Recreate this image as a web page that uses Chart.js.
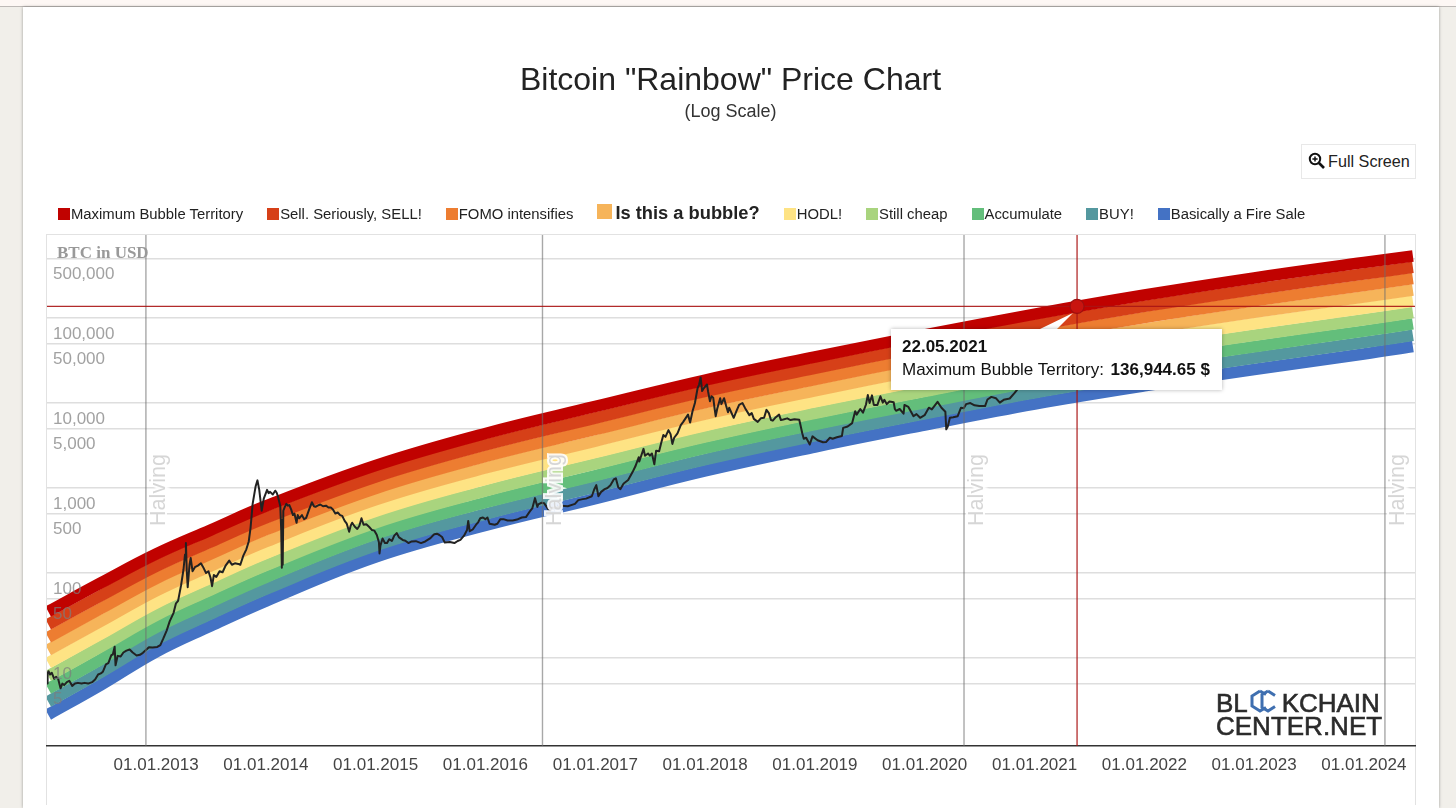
<!DOCTYPE html>
<html>
<head>
<meta charset="utf-8">
<title>Bitcoin "Rainbow" Price Chart</title>
<script src="https://cdn.jsdelivr.net/npm/chart.js@4/dist/chart.umd.min.js"></script>
<style>
  html, body { margin: 0; padding: 0; background: #f1efea; overflow: hidden; }
  body { width: 1456px; height: 808px; position: relative; font-family: 'Liberation Sans', Arial, sans-serif; color: #222; }
  #topStrip { position: absolute; left: 0; top: 0; width: 1456px; height: 6px; background: #fdf7f4; border-bottom: 1px solid #bdb9b6; }
  #card { position: absolute; left: 23px; top: 7px; width: 1416px; height: 801px; background: #fff; box-shadow: 0 0 3px rgba(0,0,0,.35); }
  #frame { position: absolute; left: 46px; top: 234px; width: 1368px; height: 570px; border: 1px solid #e2e2e2; border-bottom: 0; }
  #rainbow { position: absolute; left: 0; top: 0; }
  #title { position: absolute; left: 0; width: 1461px; top: 60px; text-align: center; font-size: 32px; line-height: 38px; color: #222; }
  #subtitle { position: absolute; left: 0; width: 1461px; top: 100px; text-align: center; font-size: 18px; line-height: 22px; color: #333; }
  #fsBtn { position: absolute; left: 1301px; top: 144px; width: 113px; height: 33px; border: 1px solid #e8e8e8; font-size: 16.2px; line-height: 33px; color: #222; background: #fff; }
  #fsBtn svg { position: absolute; left: 6px; top: 7px; }
  #fsBtn span { position: absolute; left: 26px; white-space: nowrap; }
  #legend { position: absolute; left: 58px; top: 201px; height: 26px; display: flex; gap: 24px; align-items: center; font-size: 14.85px; color: #222; white-space: nowrap; }
  #legend i { display: inline-block; width: 12px; height: 12px; margin-right: 1px; vertical-align: -1px; }
  #legend .big { font-size: 18.3px; font-weight: bold; margin-top: -2px; }
  #legend .big i { width: 15px; height: 15px; margin-right: 3px; vertical-align: 0; }
  #wedge { position: absolute; left: 1040px; top: 312px; width: 36px; height: 18px; background: #fff; clip-path: polygon(33px 1px, 0 17px, 17px 17px); }
  #tip { position: absolute; left: 891px; top: 329px; width: 331px; height: 61px; background: #fff; box-shadow: 0 0 4px rgba(0,0,0,.3); font-size: 17px; color: #111; }
  #tip div { position: absolute; left: 11px; white-space: nowrap; line-height: 20px; }
  #logo { position: absolute; left: 1216px; top: 692px; font-size: 26px; line-height: 23px; color: #2b2b2b; white-space: nowrap; -webkit-text-stroke: .6px #2b2b2b; }
  #logo .oc { position: relative; color: transparent; -webkit-text-stroke: 0; letter-spacing: -2.6px; }
  #logo svg { position: absolute; left: 0; top: 1px; }
</style>
</head>
<body>
<div id="topStrip"></div>
<div id="card"></div>
<div id="frame"></div>
<canvas id="rainbow" width="1456" height="808"></canvas>
<div id="title">Bitcoin "Rainbow" Price Chart</div>
<div id="subtitle">(Log Scale)</div>
<div id="fsBtn">
  <svg width="18" height="18" viewBox="0 0 18 18"><circle cx="7" cy="7" r="5.2" fill="none" stroke="#111" stroke-width="2"/><path d="M11 11l5 5" stroke="#111" stroke-width="2.6"/><path d="M4.4 7h5.2M7 4.4v5.2" stroke="#111" stroke-width="1.5"/></svg>
  <span>Full Screen</span>
</div>
<div id="legend"></div>
<div id="logo">BL<span class="oc">OC<svg width="36" height="24" viewBox="0 0 36 24" fill="none" stroke="#3f6fb0" stroke-width="3"><path d="M12 2l-8 5v10l8 5 6-3.5M12 2l6 3.5"/><path d="M20 2l-6 3.5v13l6 3.5 7-4.5M20 2l7 4.5"/></svg></span>KCHAIN<br>CENTER.NET</div>
<div id="wedge"></div>
<div id="tip"><div id="tipDate" style="top:8px;font-weight:bold"></div><div id="tipLine" style="top:31px"></div></div>

<script>
// knots of the nine bands
const bandDates = ['2012-01-08','2012-07-01','2013-01-01','2013-07-01','2014-01-01','2015-01-01','2016-01-01','2017-01-01','2018-01-01','2019-01-01','2020-01-01','2021-01-01','2022-01-01','2023-01-01','2024-01-01','2024-06-12'];
const maxBubble = [35.2,76.3,167,320,614,1840,4380,9100,18600,34800,63100,111000,186000,296000,449000,536000];
const sellSeriously = [24.9,54.0,120,232,445,1350,3210,6660,13700,25600,46500,82100,137000,217000,329000,395000];
const fomo = [17.5,38.2,86.2,167,323,990,2350,4880,10100,18900,34300,60600,101000,159000,242000,291000];
const isBubble = [12.4,27.1,61.8,121,234,726,1720,3570,7400,13900,25300,44700,74000,117000,177000,214000];
const hodl = [8.73,19.2,44.4,87.3,170,533,1260,2620,5440,10300,18600,32900,54400,85600,130000,157000];
const stillCheap = [6.16,13.6,31.8,63.1,123,391,922,1920,3990,7570,13700,24300,39900,62800,95400,116000];
const accumulate = [4.35,9.6,22.9,45.6,89.1,287,675,1400,2940,5590,10100,17900,29400,46000,70100,85300];
const buy = [3.07,6.80,16.4,32.9,64.6,210,494,1030,2160,4120,7470,13200,21600,33800,51400,62800];
const fireSale = [2.16,4.81,11.8,23.8,46.8,154,362,752,1590,3040,5510,9730,15900,24800,37700,46200];

const bandNames = ['Maximum Bubble Territory','Sell. Seriously, SELL!','FOMO intensifies','Is this a bubble?','HODL!','Still cheap','Accumulate','BUY!','Basically a Fire Sale'];
const bandColors = ['#c00200','#d64018','#ed7d31','#f6b45a','#fee384','#a9d47e','#63be7b','#54989f','#4472c4'];
const bandValues = [maxBubble, sellSeriously, fomo, isBubble, hodl, stillCheap, accumulate, buy, fireSale];

const btcDates = [
  '2012-01-04','2012-01-06','2012-01-09','2012-01-14','2012-01-20','2012-01-28','2012-02-03','2012-02-10','2012-02-18','2012-02-24','2012-03-01','2012-03-10','2012-03-18','2012-03-28','2012-04-06','2012-04-16','2012-04-28','2012-05-08','2012-05-20','2012-06-02','2012-06-12','2012-06-22','2012-07-01','2012-07-08','2012-07-18','2012-07-26','2012-08-05','2012-08-10','2012-08-16','2012-08-19','2012-08-26','2012-09-05','2012-09-14','2012-09-24','2012-10-05','2012-10-15','2012-10-28','2012-11-08','2012-11-18','2012-11-28','2012-12-08','2012-12-20',
  '2013-01-05','2013-01-15','2013-01-25','2013-02-05','2013-02-15','2013-02-28','2013-03-08','2013-03-15','2013-03-25','2013-04-02','2013-04-07','2013-04-10','2013-04-13','2013-04-16','2013-04-22','2013-04-26','2013-05-02','2013-05-10','2013-05-20','2013-05-30','2013-06-06','2013-06-16','2013-06-24','2013-07-01','2013-07-06','2013-07-12','2013-07-20','2013-07-31','2013-08-10','2013-08-20','2013-09-01','2013-09-10','2013-09-20','2013-10-01','2013-10-08','2013-10-18','2013-10-28','2013-11-05','2013-11-11','2013-11-18','2013-11-28','2013-12-04','2013-12-10','2013-12-18','2013-12-25',
  '2014-01-05','2014-01-10','2014-01-15','2014-01-24','2014-02-01','2014-02-06','2014-02-10','2014-02-18','2014-02-21','2014-02-23','2014-02-24','2014-02-26','2014-02-28','2014-03-05','2014-03-10','2014-03-15','2014-03-20','2014-03-26','2014-04-01','2014-04-06','2014-04-13','2014-04-17','2014-04-22','2014-05-01','2014-05-08','2014-05-15','2014-05-20','2014-05-25','2014-06-03','2014-06-10','2014-06-15','2014-06-22','2014-07-01','2014-07-10','2014-07-20','2014-07-28','2014-08-05','2014-08-12','2014-08-20','2014-08-28','2014-09-05','2014-09-12','2014-09-20','2014-09-27','2014-10-05','2014-10-10','2014-10-15','2014-10-24','2014-11-01','2014-11-08','2014-11-15','2014-11-22','2014-12-01','2014-12-10','2014-12-20','2014-12-28',
  '2015-01-05','2015-01-12','2015-01-14','2015-01-17','2015-01-24','2015-02-01','2015-02-08','2015-02-15','2015-02-24','2015-03-04','2015-03-12','2015-03-20','2015-04-01','2015-04-10','2015-04-20','2015-05-01','2015-05-15','2015-06-01','2015-06-15','2015-07-01','2015-07-08','2015-07-15','2015-07-24','2015-08-01','2015-08-10','2015-08-19','2015-09-05','2015-09-20','2015-10-01','2015-10-10','2015-10-22','2015-11-01','2015-11-05','2015-11-10','2015-11-20','2015-12-01','2015-12-08','2015-12-15','2015-12-24',
  '2016-01-01','2016-01-08','2016-01-15','2016-02-01','2016-02-10','2016-02-20','2016-03-01','2016-03-15','2016-04-01','2016-04-15','2016-05-01','2016-05-15','2016-05-28','2016-06-05','2016-06-14','2016-06-22','2016-06-25','2016-07-05','2016-07-15','2016-08-02','2016-08-10','2016-08-20','2016-09-10','2016-10-01','2016-10-25','2016-11-05','2016-11-20','2016-12-01','2016-12-20','2016-12-28',
  '2017-01-04','2017-01-11','2017-01-20','2017-02-01','2017-02-10','2017-02-20','2017-03-03','2017-03-10','2017-03-18','2017-03-25','2017-04-05','2017-04-20','2017-05-05','2017-05-14','2017-05-25','2017-05-27','2017-06-10','2017-06-15','2017-06-25','2017-07-01','2017-07-08','2017-07-16','2017-07-22','2017-08-01','2017-08-08','2017-08-15','2017-08-22','2017-09-01','2017-09-08','2017-09-14','2017-09-20','2017-10-01','2017-10-12','2017-10-20','2017-11-05','2017-11-12','2017-11-20','2017-11-28','2017-12-07','2017-12-12','2017-12-17','2017-12-22','2017-12-28',
  '2018-01-07','2018-01-11','2018-01-17','2018-01-22','2018-01-28','2018-02-01','2018-02-05','2018-02-10','2018-02-20','2018-02-24','2018-03-05','2018-03-12','2018-03-18','2018-03-22','2018-04-06','2018-04-15','2018-04-24','2018-05-05','2018-05-14','2018-05-28','2018-06-05','2018-06-12','2018-06-25','2018-07-05','2018-07-16','2018-07-24','2018-08-01','2018-08-08','2018-08-14','2018-08-22','2018-09-04','2018-09-10','2018-09-18','2018-10-01','2018-10-12','2018-10-25','2018-11-10','2018-11-14','2018-11-20','2018-11-25','2018-12-03','2018-12-15','2018-12-24',
  '2019-01-10','2019-01-28','2019-02-07','2019-02-20','2019-03-01','2019-03-15','2019-04-01','2019-04-05','2019-04-20','2019-05-05','2019-05-15','2019-05-20','2019-06-01','2019-06-10','2019-06-20','2019-06-26','2019-07-02','2019-07-10','2019-07-16','2019-07-28','2019-08-07','2019-08-15','2019-08-20','2019-08-28','2019-09-06','2019-09-20','2019-09-24','2019-09-28','2019-10-10','2019-10-23','2019-10-26','2019-11-08','2019-11-25','2019-12-05','2019-12-17',
  '2020-01-01','2020-01-15','2020-01-25','2020-02-13','2020-02-26','2020-03-10','2020-03-13','2020-03-18','2020-03-25','2020-04-05','2020-04-20','2020-05-01','2020-05-10','2020-05-18','2020-06-01','2020-06-15','2020-07-01','2020-07-20','2020-07-28','2020-08-10','2020-08-25','2020-09-07','2020-09-20','2020-10-10','2020-10-25','2020-11-10','2020-12-17',
  '2021-01-08','2021-02-20','2021-03-13','2021-04-14','2021-05-19'
];
const btcPrices = [
  5.0,6.6,7.0,6.4,6.7,5.7,6.0,5.7,4.4,5.0,4.8,5.2,5.4,4.7,5.0,5.1,5.0,5.1,5.0,5.2,5.6,6.4,6.6,6.9,8.4,8.7,10.8,11,13.6,8.2,10.6,10.4,11.6,12.2,12.6,11.6,10.7,10.9,11.5,12.4,13.4,13.3,
  13.5,14.2,17,21,27,34,44,47,72,110,165,225,105,68,125,150,105,117,122,130,118,100,105,88,70,95,90,105,102,122,140,125,130,128,125,160,190,235,340,650,1050,1230,950,540,750,
  950,870,900,840,930,880,800,610,320,115,420,125,540,600,650,620,630,560,480,500,390,480,440,480,430,445,500,560,680,610,600,620,640,610,620,590,590,560,500,515,480,470,410,380,305,360,390,350,330,360,440,370,375,350,320,315,
  280,230,170,210,255,225,225,250,238,275,295,262,245,240,225,235,237,225,235,255,270,285,290,280,265,228,232,225,238,245,275,320,410,310,325,370,395,440,450,
  430,450,380,370,380,430,430,415,415,425,450,455,530,575,760,600,640,670,660,530,590,580,620,610,650,720,740,750,800,960,
  1080,800,900,970,1000,1080,1260,1300,1020,970,1130,1240,1550,1800,2300,2050,2890,2400,2550,2400,2550,1900,2750,2700,3400,4200,4000,4800,4300,3300,3900,4400,5500,6000,7300,5900,8000,10000,15000,16500,20000,13800,15000,
  16500,13500,10500,12000,11500,8800,7000,8500,11400,9700,11400,9200,7800,8800,6700,8000,9500,10000,8700,7200,7600,6500,6000,6600,6700,8300,7600,6300,6200,6700,7300,6300,6400,6600,6300,6450,6350,5500,4400,3800,3900,3250,4050,
  3650,3450,3470,3900,3800,3950,4100,5100,5300,5800,8000,7300,8500,7700,9600,12400,10000,12300,9500,9500,12000,10100,10900,9700,10400,10200,8500,8100,8500,7500,9500,9000,7000,7400,6700,
  7200,8800,8400,10300,8800,7900,4900,5300,6700,6800,7000,8800,8700,9700,10000,9400,9200,9200,11000,11800,11400,10100,10900,11300,13000,15300,23000,
  40000,56000,60000,63000,38000
];

const halvingDates = ['2012-11-28','2016-07-09','2020-05-11','2024-03-11'];
const xTickDates = ['2013-01-01','2014-01-01','2015-01-01','2016-01-01','2017-01-01','2018-01-01','2019-01-01','2020-01-01','2021-01-01','2022-01-01','2023-01-01','2024-01-01'];
const yTickValues = [500000,100000,50000,10000,5000,1000,500,100,50,10,5];
const cursorDate = '2021-05-22';
const cursorValue = 136944.65;
const xMinDate = '2012-01-04', xMaxDate = '2024-06-19';
const yMin = 0.922, yMax = 947400;

const day = (s) => Date.parse(s + 'T00:00:00Z');
const fmtDate = (ms) => {
  const d = new Date(ms);
  const p = (n) => String(n).padStart(2, '0');
  return p(d.getUTCDate()) + '.' + p(d.getUTCMonth() + 1) + '.' + d.getUTCFullYear();
};

// legend, tooltip text
document.getElementById('legend').innerHTML = bandNames.map((n, i) =>
  `<span class="${i === 3 ? 'big' : ''}"><i style="background:${bandColors[i]}"></i>${n}</span>`).join('');
document.getElementById('tipDate').textContent = fmtDate(day(cursorDate));
document.getElementById('tipLine').innerHTML = bandNames[0] + ': <b style="margin-left:2px">' +
  cursorValue.toLocaleString('en-US', { minimumFractionDigits: 2, maximumFractionDigits: 2 }) + ' $</b>';

const vline = (date, color, width, order) => ({
  data: [{ x: day(date), y: yMin }, { x: day(date), y: yMax }],
  borderColor: color, borderWidth: width, pointRadius: 0, order,
});

const datasets = [
  // marker on the top band
  { data: [{ x: day(cursorDate), y: cursorValue }], pointRadius: 7, pointBackgroundColor: '#c8140f', pointBorderColor: '#9c1010', pointBorderWidth: 1.2, showLine: false, order: 0 },
  vline(cursorDate, 'rgba(170,20,20,.9)', 1.3, 1),
  { data: [{ x: day(xMinDate), y: cursorValue }, { x: day(xMaxDate), y: cursorValue }], borderColor: 'rgba(170,20,20,.9)', borderWidth: 1.3, pointRadius: 0, order: 1 },
  ...halvingDates.map((d) => vline(d, 'rgba(110,110,110,.6)', 1.4, 2)),
  { data: btcDates.map((d, i) => ({ x: day(d), y: btcPrices[i] })), borderColor: '#222', borderWidth: 2, pointRadius: 0, borderJoinStyle: 'round', order: 3 },
  ...bandValues.map((vals, i) => ({
    data: bandDates.map((d, k) => ({ x: day(d), y: vals[k] })),
    borderColor: bandColors[i], borderWidth: 11.6, pointRadius: 0, borderCapStyle: 'butt',
    tension: 0.4, clip: 0, order: 4 + i,
  })),
];

// rotated Halving captions and the axis caption
const captions = {
  id: 'captions',
  afterDatasetsDraw(chart) {
    const { ctx, chartArea, scales } = chart;
    ctx.save();
    halvingDates.forEach((d) => {
      ctx.save();
      ctx.translate(scales.x.getPixelForValue(day(d)) + 13, 490);
      ctx.rotate(-Math.PI / 2);
      ctx.font = '21.6px "Liberation Sans"';
      ctx.textAlign = 'center';
      ctx.textBaseline = 'middle';
      ctx.lineWidth = 4;
      ctx.strokeStyle = 'rgba(255,255,255,.9)';
      ctx.strokeText('Halving', 0, 0);
      ctx.fillStyle = '#d6d6d6';
      ctx.fillText('Halving', 0, 0);
      ctx.restore();
    });
    ctx.font = 'bold 17px "Liberation Serif"';
    ctx.fillStyle = '#999';
    ctx.textBaseline = 'middle';
    ctx.fillText('BTC in USD', chartArea.left + 10, chartArea.top + 19);
    ctx.restore();
  },
};

new Chart(document.getElementById('rainbow'), {
  type: 'line',
  data: { datasets },
  plugins: [captions],
  options: {
    responsive: false,
    animation: false,
    events: [],
    layout: { padding: { left: 47, top: 235, right: 41, bottom: 22 } },
    plugins: { legend: { display: false }, tooltip: { enabled: false }, title: { display: false } },
    scales: {
      x: {
        type: 'linear',
        min: day(xMinDate),
        max: day(xMaxDate),
        grid: { display: false },
        border: { color: '#333', width: 1.5 },
        afterBuildTicks: (s) => { s.ticks = xTickDates.map((d) => ({ value: day(d) })); },
        afterFit: (s) => { s.height = 40; },
        ticks: {
          color: '#444',
          font: { family: 'Liberation Sans', size: 17 },
          padding: 1,
          maxRotation: 0,
          autoSkip: false,
          callback: (v) => fmtDate(v),
        },
      },
      y: {
        type: 'logarithmic',
        min: yMin,
        max: yMax,
        border: { display: false },
        grid: { color: '#dedede', lineWidth: 1.4, drawTicks: false },
        afterBuildTicks: (s) => { s.ticks = yTickValues.map((v) => ({ value: v })); },
        afterFit: (s) => { s.width = 0; },
        ticks: {
          mirror: true,
          z: 1,
          padding: 6,
          labelOffset: 16,
          color: 'rgba(125,125,125,.72)',
          font: { family: 'Liberation Sans', size: 17 },
          autoSkip: false,
          callback: (v) => v.toLocaleString('en-US'),
        },
      },
    },
  },
});
</script>
</body>
</html>
